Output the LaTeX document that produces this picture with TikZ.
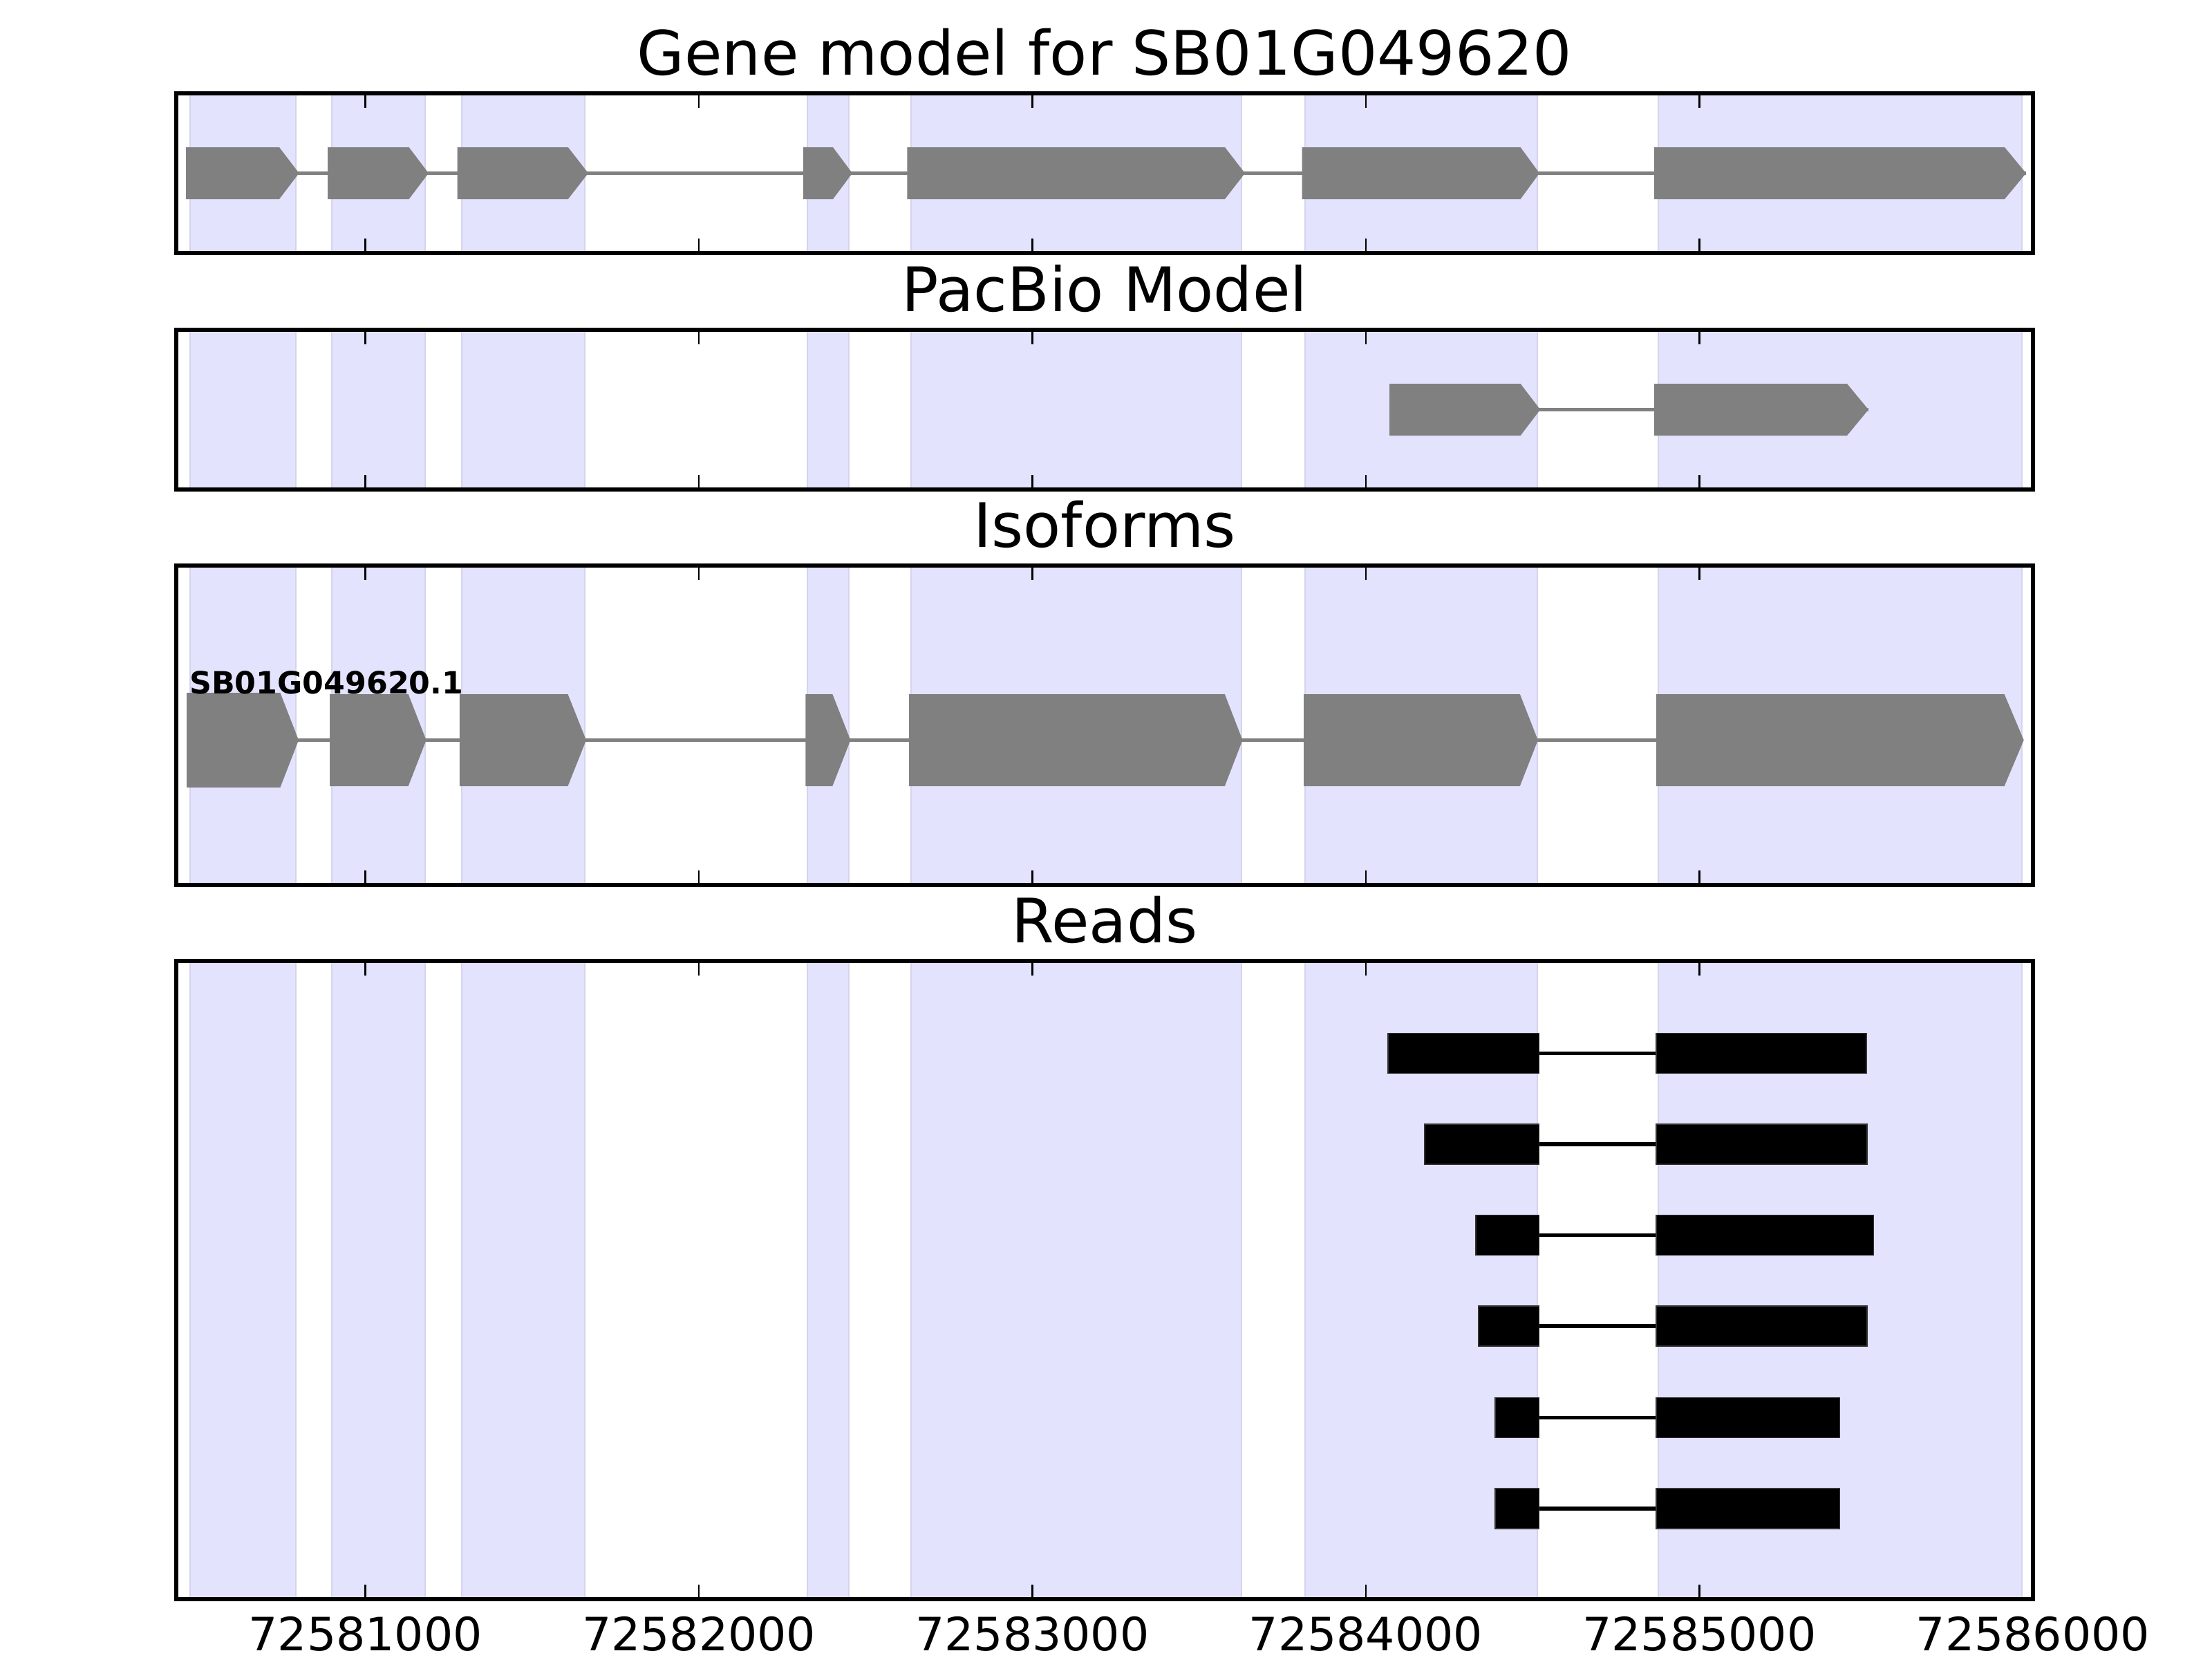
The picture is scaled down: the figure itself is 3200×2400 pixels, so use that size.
\documentclass[tikz,border=0pt]{standalone}
\usepackage{xcolor}
\usepackage{fontspec}
\setmainfont{DejaVu Sans}
\usepackage{tikz}
\usetikzlibrary{positioning}

\definecolor{exongray}{HTML}{808080}
\definecolor{spanblue}{RGB}{227,227,253}
\definecolor{spanedge}{RGB}{212,212,238}

\tikzset{
    span/.style={fill=spanblue, draw=spanedge, line width=0.4pt},
    frame/.style={draw=black, line width=1pt},
    tickmark/.style={draw=black, line width=0.5pt},
    exon/.style={fill=exongray},
    intron/.style={draw=exongray, line width=1pt},
    readblock/.style={fill=black, draw=black!80, line width=0.3pt},
    readline/.style={draw=black, line width=1pt},
    paneltitle/.style={anchor=base, inner sep=0pt, font=\fontsize{16}{19}\selectfont},
    ticklabel/.style={anchor=base, inner sep=0pt, font=\fontsize{12}{14}\selectfont},
    isolabel/.style={anchor=base west, inner sep=0pt, font=\fontsize{8}{10}\selectfont\bfseries}
}

% shaded exon spans, inward ticks and frame of one track (top, bottom)
\newcommand{\trackpanel}[2]{%
    \foreach \a/\b in {275/428,480/615,668/846,1168/1228,1318/1796,1888/2224,2399/2925}
        \filldraw[span] (\a,#1) rectangle (\b,#2);
    \foreach \t in {528.6,1011.1,1493.5,1976,2458.4}{
        \draw[tickmark] (\t,#1) -- ++(0,21);
        \draw[tickmark] (\t,#2) -- ++(0,-21);
    }
    \draw[frame] (255,#1) rectangle (2941,#2);
}
% gene arrow: start, end of body, tip, centre y, half height
\newcommand{\genearrow}[5]{%
    \fill[exon] (#1,{#4-#5}) -- (#2,{#4-#5}) -- (#3,#4) -- (#2,{#4+#5}) -- (#1,{#4+#5}) -- cycle;
}
% read: centre y, left end, right end
\newcommand{\readpair}[3]{%
    \draw[readline] (#2,#1) -- (#3,#1);
    \filldraw[readblock] (#2,{#1-29}) rectangle (2226.5,{#1+29});
    \filldraw[readblock] (2396,{#1-29}) rectangle (#3,{#1+29});
}

\begin{document}
\begin{tikzpicture}[x=0.00635cm, y=-0.00635cm]
    \useasboundingbox (0,0) rectangle (3200,2400);

    % Gene model
    \node[paneltitle] (title1) at (1598,108) {Gene model for SB01G049620};
    \trackpanel{135}{366}
    \draw[intron] (269,250.5) -- (2931,250.5);
    \foreach \s/\e/\p in {269/404/432.6,474/591.6/620,661.7/821.8/851,1162/1205/1233,
                          1312.4/1772/1801,1883.6/2199.6/2227,2393/2900/2931}
        {\genearrow{\s}{\e}{\p}{250.5}{37.5}}

    % PacBio model
    \node[paneltitle] (title2) at (1598,450) {PacBio Model};
    \trackpanel{477}{708}
    \draw[intron] (2010,592.5) -- (2703,592.5);
    \genearrow{2010}{2199.6}{2228.2}{592.5}{37.5}
    \genearrow{2393}{2672}{2703}{592.5}{37.5}

    % Isoforms
    \node[paneltitle] (title3) at (1598,791) {Isoforms};
    \trackpanel{818}{1280}
    \draw[intron] (270,1070.5) -- (2927,1070.5);
    \genearrow{270}{405.4}{432}{1070.5}{68.5}
    \foreach \s/\e/\p in {477/590.7/616.6,664.8/821.5/848,1165.3/1204.3/1230.4,
                          1315/1771.8/1797.5,1886/2198.8/2224.8,2396/2899.6/2927.7}
        {\genearrow{\s}{\e}{\p}{1070.5}{66.5}}
    \node[isolabel] (iso1) at (273,1003) {SB01G049620.1};

    % Reads
    \node[paneltitle] (title4) at (1598,1363) {Reads};
    \trackpanel{1390}{2313}
    \foreach \y/\l/\r in {1523.5/2008/2700,1654.8/2061/2701,1786.4/2135/2710.6,
                          1918/2139/2701,2050.5/2163/2661.5,2181.8/2163/2661.5}
        {\readpair{\y}{\l}{\r}}

    % x axis labels
    \foreach \t/\lab in {528.6/72581000,1011.1/72582000,1493.5/72583000,
                         1976/72584000,2458.4/72585000,2941/72586000}
        \node[ticklabel] at (\t,2387) {\lab};
\end{tikzpicture}
\end{document}
